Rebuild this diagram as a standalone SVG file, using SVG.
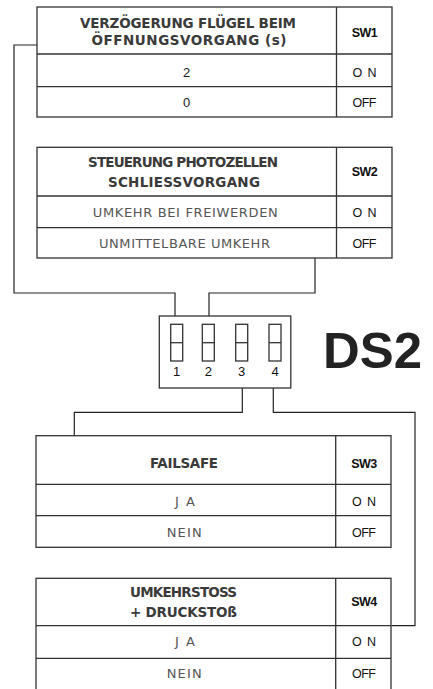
<svg xmlns="http://www.w3.org/2000/svg" width="433" height="689" viewBox="0 0 433 689">
<style>
.box{fill:#fff;stroke:#333;stroke-width:1.3}
.ln{stroke:#333;stroke-width:1.3;fill:none}
.con{stroke:#222;stroke-width:1.2;fill:none}
.hd{font-family:"DejaVu Sans","Liberation Sans",sans-serif;font-size:13.5px;font-weight:bold;fill:#3a3a3a;text-anchor:middle}
.rw{font-family:"DejaVu Sans","Liberation Sans",sans-serif;font-size:13px;fill:#555;text-anchor:middle}
.num{font-family:"Liberation Sans",Arial,sans-serif;font-size:13px;fill:#222;text-anchor:middle}
.sw{font-family:"Liberation Sans",Arial,sans-serif;font-size:12.5px;font-weight:bold;fill:#111;text-anchor:middle;letter-spacing:-0.6px}
.oo{font-family:"Liberation Sans",Arial,sans-serif;font-size:12.5px;fill:#111;text-anchor:middle}
.dip{font-family:"Liberation Sans",Arial,sans-serif;font-size:13px;fill:#111;text-anchor:middle}
.ds{font-family:"Liberation Sans",Arial,sans-serif;font-size:50px;font-weight:bold;fill:#222}
</style>
<g id="connectors">
<path class="con" d="M37,45 H14 V293 H175 V316"/>
<path class="con" d="M315,258 V293 H209 V316"/>
<path class="con" d="M242.3,388 V412.3 H74.3 V435.7"/>
<path class="con" d="M273.3,388 V412.3 H415 V625.7 H391.5"/>
</g>
<g id="sw1">
<rect class="box" x="37" y="7" width="355" height="110"/>
<path class="ln" d="M336.5,7 V117 M37,54 H392 M37,86.7 H392"/>
<text class="hd" x="188" y="28.3" textLength="216" lengthAdjust="spacing">VERZÖGERUNG FLÜGEL BEIM</text>
<text class="hd" x="189" y="44.7" textLength="195" lengthAdjust="spacing">ÖFFNUNGSVORGANG (s)</text>
<text class="sw" x="364.5" y="37.3">SW1</text>
<text class="num" x="186.5" y="77.3">2</text>
<text class="num" x="186.5" y="106.7">0</text>
<text class="oo" x="364.5" y="77.3" textLength="24" lengthAdjust="spacing">ON</text>
<text class="oo" x="364.5" y="106.7" textLength="24" lengthAdjust="spacing">OFF</text>
</g>
<g id="sw2">
<rect class="box" x="37" y="147.3" width="355" height="110.7"/>
<path class="ln" d="M336.5,147.3 V258 M37,196 H392 M37,227.7 H392"/>
<text class="hd" x="183" y="167.3" textLength="190" lengthAdjust="spacing">STEUERUNG PHOTOZELLEN</text>
<text class="hd" x="184" y="186.7" textLength="152" lengthAdjust="spacing">SCHLIESSVORGANG</text>
<text class="sw" x="364.5" y="175.7">SW2</text>
<text class="rw" x="185.3" y="217.3" textLength="185" lengthAdjust="spacing">UMKEHR BEI FREIWERDEN</text>
<text class="rw" x="184.5" y="248.3" textLength="171" lengthAdjust="spacing">UNMITTELBARE UMKEHR</text>
<text class="oo" x="364.5" y="217.3" textLength="24" lengthAdjust="spacing">ON</text>
<text class="oo" x="364.5" y="248.3" textLength="24" lengthAdjust="spacing">OFF</text>
</g>
<g id="ds2">
<rect class="box" x="159.3" y="316" width="131.5" height="72"/>
<g class="ln" stroke-width="1.1">
<rect x="170.7" y="324.3" width="12" height="36.7"/>
<path d="M170.7,342.7 H182.7"/>
<rect x="202.3" y="324.3" width="12" height="36.7"/>
<path d="M202.3,342.7 H214.3"/>
<rect x="235.7" y="324.3" width="12" height="36.7"/>
<path d="M235.7,342.7 H247.7"/>
<rect x="269" y="324.3" width="12" height="36.7"/>
<path d="M269,342.7 H281"/>
</g>
<text class="dip" x="176.7" y="375.5">1</text>
<text class="dip" x="208.3" y="375.5">2</text>
<text class="dip" x="241.7" y="375.5">3</text>
<text class="dip" x="275" y="375.5">4</text>
<text class="ds" x="323" y="368" textLength="99" lengthAdjust="spacingAndGlyphs">DS2</text>
</g>
<g id="sw3">
<rect class="box" x="36" y="435.7" width="355" height="111.6"/>
<path class="ln" d="M335.7,435.7 V547.3 M36,484.3 H391 M36,515.7 H391"/>
<text class="hd" x="184" y="468.3" textLength="68" lengthAdjust="spacing">FAILSAFE</text>
<text class="sw" x="364" y="468.3">SW3</text>
<text class="rw" x="185" y="506" textLength="20" lengthAdjust="spacing">JA</text>
<text class="rw" x="184.2" y="536.7" textLength="35" lengthAdjust="spacing">NEIN</text>
<text class="oo" x="364" y="506" textLength="24" lengthAdjust="spacing">ON</text>
<text class="oo" x="364" y="536.7" textLength="24" lengthAdjust="spacing">OFF</text>
</g>
<g id="sw4">
<rect class="box" x="36" y="578.3" width="355" height="112"/>
<path class="ln" d="M335.7,578.3 V690 M36,625.7 H391 M36,658.3 H391"/>
<text class="hd" x="183.5" y="596.7" textLength="107" lengthAdjust="spacing">UMKEHRSTOSS</text>
<text class="hd" x="183.5" y="616.7" textLength="107" lengthAdjust="spacing">+ DRUCKSTOß</text>
<text class="sw" x="364" y="605.7">SW4</text>
<text class="rw" x="185" y="646" textLength="20" lengthAdjust="spacing">JA</text>
<text class="rw" x="184.2" y="678.3" textLength="35" lengthAdjust="spacing">NEIN</text>
<text class="oo" x="364" y="646" textLength="24" lengthAdjust="spacing">ON</text>
<text class="oo" x="364" y="678.3" textLength="24" lengthAdjust="spacing">OFF</text>
</g>
</svg>
